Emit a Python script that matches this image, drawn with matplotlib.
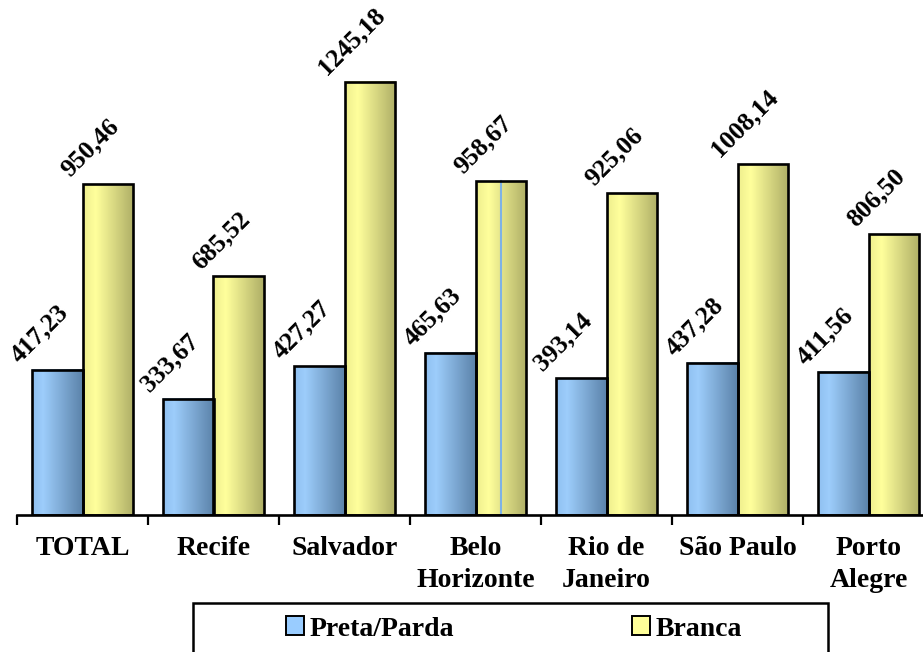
import matplotlib

matplotlib.use("Agg")
import matplotlib.pyplot as plt  # noqa: E402
import numpy as np  # noqa: E402
from matplotlib.colors import LinearSegmentedColormap  # noqa: E402
from matplotlib.patches import Patch, Rectangle  # noqa: E402

categories = ["TOTAL", "Recife", "Salvador", "Belo\nHorizonte", "Rio de\nJaneiro",
              "São Paulo", "Porto\nAlegre"]
preta_parda = [417.23, 333.67, 427.27, 465.63, 393.14, 437.28, 411.56]
branca = [950.46, 685.52, 1245.18, 958.67, 925.06, 1008.14, 806.50]
series_names = ["Preta/Parda", "Branca"]

plt.rcParams["font.family"] = "Liberation Serif"
plt.rcParams["font.weight"] = "bold"

blue_cmap = LinearSegmentedColormap.from_list(
    "blue_grad", [(0.0, "#8fc0f0"), (0.22, "#9dcdfb"), (1.0, "#5b82a9")])
yellow_cmap = LinearSegmentedColormap.from_list(
    "yellow_grad", [(0.0, "#eeee8e"), (0.25, "#ffff9c"), (1.0, "#aeae66")])
legend_blue = "#99ccff"
legend_yellow = "#ffff99"

W, H = 923, 652
fig = plt.figure(figsize=(W / 100, H / 100), dpi=100)
# axis spans past the right edge, as in the reference
ax = fig.add_axes([17 / W, 1 - 515 / H, 917 / W, 488 / H])

x = np.arange(len(categories))
width = 0.385
ymax = 488 / 0.348

gradient = np.linspace(0, 1, 256).reshape(1, -1)
all_bars = []
for vals, cmap, off in [(preta_parda, blue_cmap, -width / 2), (branca, yellow_cmap, width / 2)]:
    bars = ax.bar(x + off, vals, width, color="none", edgecolor="black", linewidth=1.9, zorder=3)
    all_bars.append(bars)
    for b in bars:
        x0, w, h = b.get_x(), b.get_width(), b.get_height()
        ax.imshow(gradient, cmap=cmap, aspect="auto", extent=(x0, x0 + w, 0, h),
                  interpolation="bilinear", zorder=2)
    for xi, v in zip(x + off, vals):
        ax.annotate(f"{v:.2f}".replace(".", ","), (xi, v), xytext=(-18, 3),
                    textcoords="offset pixels", rotation=45, ha="center", va="bottom",
                    fontsize=18.5, fontweight="bold")

# stray blue rule inside the Belo Horizonte bar, as in the source image
bh = all_bars[1][3]
ax.plot([bh.get_x() + bh.get_width() / 2] * 2, [0, bh.get_height()],
        color="#7fb2e5", linewidth=1.5, zorder=2.5)

ax.set_xlim(-0.5, len(categories) - 0.5)
ax.set_ylim(0, ymax)

for side in ["top", "right", "left"]:
    ax.spines[side].set_visible(False)
ax.spines["bottom"].set_linewidth(1.9)
ax.set_yticks([])
ax.set_xticks(x)
ax.set_xticklabels(categories, fontsize=20, fontweight="bold", linespacing=1.4)
ax.tick_params(axis="x", which="major", length=0, pad=15)
ax.set_xticks(np.arange(-0.5, len(categories) + 0.5), minor=True)
ax.tick_params(axis="x", which="minor", length=7, width=1.6)

# legend frame runs off the bottom edge
fig.patches.append(Rectangle((193 / W, -10 / H), 635 / W, (49 + 10) / H,
                             transform=fig.transFigure, facecolor="white",
                             edgecolor="black", linewidth=1.8))
handles = [Patch(facecolor=legend_blue, edgecolor="black", linewidth=1.4),
           Patch(facecolor=legend_yellow, edgecolor="black", linewidth=1.4)]
leg = fig.legend(handles, series_names, loc="center left",
                 bbox_to_anchor=(286 / W, 1 - 629 / H), ncol=2, fontsize=20,
                 frameon=False, handlelength=0.65, handleheight=0.65,
                 handletextpad=0.2, columnspacing=6.4, borderpad=0,
                 borderaxespad=0)
for t in leg.get_texts():
    t.set_fontweight("bold")

fig.savefig("out.png", dpi=100)
